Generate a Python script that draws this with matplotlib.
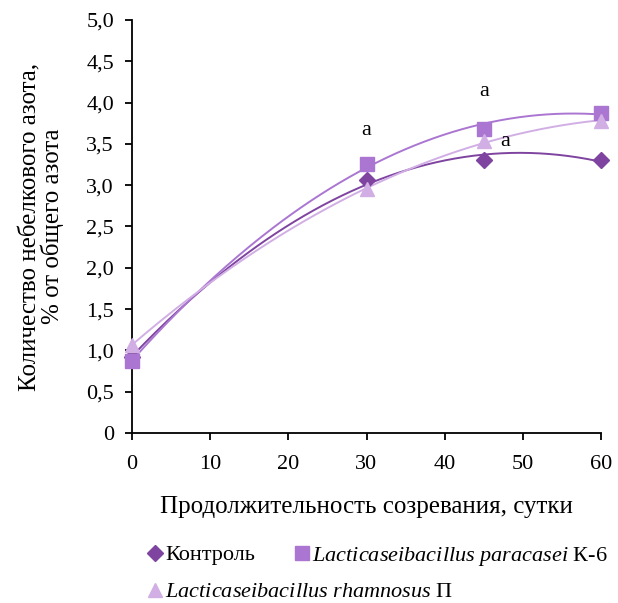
import matplotlib
matplotlib.use('Agg')
import matplotlib.pyplot as plt
from matplotlib.lines import Line2D
from matplotlib.ticker import FuncFormatter
import numpy as np

plt.rcParams['font.family'] = ['Liberation Serif', 'DejaVu Serif']
plt.rcParams['mathtext.fontset'] = 'custom'
plt.rcParams['mathtext.rm'] = 'Liberation Serif'
plt.rcParams['mathtext.it'] = 'Liberation Serif:italic'

# data
days = [0, 30, 45, 60]
control = [0.92, 3.06, 3.30, 3.31]
paracasei = [0.87, 3.26, 3.68, 3.88]
rhamnosus = [1.07, 2.95, 3.53, 3.78]

names = ['Контроль',
         r'$\mathit{Lacticaseibacillus\ paracasei}$ К-6',
         r'$\mathit{Lacticaseibacillus\ rhamnosus}$ П']
colors = ['#7E44A0', '#AB76D2', '#D1AFE5']
markers = ['D', 's', '^']
msizes = [8, 10, 10]

# letter marks
ann_x = [30, 45, 47.7]
ann_y = [3.66, 4.14, 3.53]
ann_txt = ['a', 'a', 'a']

W, H = 618, 603
fs_tick = 16
fs_lab = 18
fig = plt.figure(figsize=(W / 100, H / 100), dpi=100)
ax = fig.add_axes([132 / W, 1 - 433 / H, (601 - 132) / W, (433 - 20) / H])

xx = np.linspace(0, 60, 200)
series = [control, paracasei, rhamnosus]
for s, c in zip(series, colors):
    p = np.polyfit(days, s, 2)
    ax.plot(xx, np.polyval(p, xx), color=c, lw=1.4, zorder=2)
for s, c, m, ms in zip(series, colors, markers, msizes):
    ax.plot(days, s, ls='none', marker=m, ms=ms, color=c, zorder=3, clip_on=False)

for x, y, t in zip(ann_x, ann_y, ann_txt):
    ax.text(x, y, t, ha='center', va='center', fontsize=fs_tick)

ax.set_xlim(0, 60)
ax.set_ylim(0, 5)
ax.set_xticks(range(0, 61, 10))
ax.set_yticks(np.arange(0, 5.01, 0.5))
ax.yaxis.set_major_formatter(FuncFormatter(lambda v, pos: '0' if v == 0 else f'{v:.1f}'.replace('.', ',')))
for sp in ['top', 'right']:
    ax.spines[sp].set_visible(False)
ax.spines['left'].set_linewidth(1.3)
ax.spines['bottom'].set_linewidth(1.3)
ax.tick_params(direction='out', length=5, width=1.3, labelsize=fs_tick)
ax.tick_params(axis='x', pad=11)
ax.tick_params(axis='y', pad=8)

ax.set_xlabel('Продолжительность созревания, сутки', fontsize=fs_lab, labelpad=16)
ax.set_ylabel('Количество небелкового азота,\n% от общего азота', fontsize=fs_lab,
              labelpad=16, linespacing=0.95)

# legend, placed by hand (Excel-style flowing rows)
leg_pos = [(155, 553), (302, 553), (155, 590)]
for (px, py), c, m, ms, nm in zip(leg_pos, colors, markers, msizes, names):
    fig.add_artist(Line2D([px / W], [1 - py / H], ls='none', marker=m, ms=ms, color=c,
                          transform=fig.transFigure))
    fig.text((px + 10) / W, 1 - py / H, nm, fontsize=fs_tick, ha='left', va='center_baseline')

fig.savefig('out.png', dpi=100)
